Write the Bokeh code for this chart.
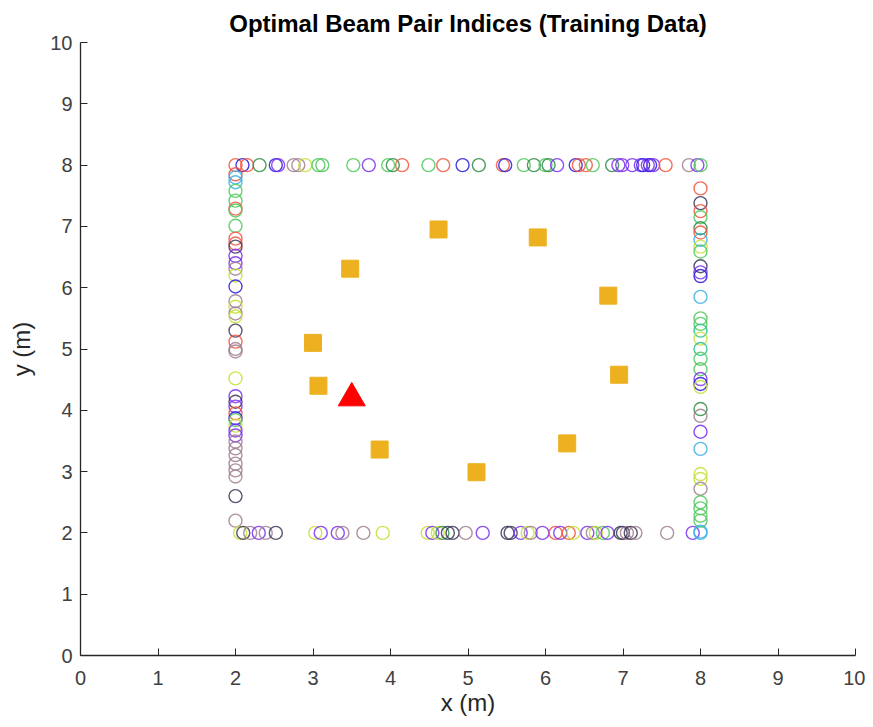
from bokeh.plotting import figure
from bokeh.embed import file_html
from bokeh.resources import INLINE
from bokeh.models import Range1d, FixedTicker, Title

# palette of beam-pair index colours
palette = ["#F2553D", "#4FC85C", "#2E8B48", "#2B1BD9", "#7B30F0",
           "#A08090", "#C4E034", "#3C3858", "#3CB0E8", "#22C48A"]

# top edge (y = 8)
top_x = [2.0, 2.09, 2.15, 2.31, 2.52, 2.55, 2.75, 2.81, 2.9, 3.07, 3.12, 3.52, 3.72,
         3.97, 4.03, 4.15, 4.49, 4.68, 4.93, 5.14, 5.45, 5.48, 5.72, 5.85, 6.0, 6.04,
         6.15, 6.39, 6.43, 6.52, 6.61, 6.86, 6.94, 6.99, 7.12, 7.23, 7.26, 7.32, 7.35,
         7.39, 7.55, 7.85, 7.96, 8.0]
top_c = [0, 3, 0, 2, 3, 4, 5, 5, 6, 1, 1, 1, 4,
         1, 2, 0, 1, 0, 3, 2, 0, 3, 1, 2, 1, 2,
         4, 3, 0, 0, 1, 2, 4, 4, 4, 4, 3, 4, 3,
         4, 0, 5, 4, 1]

# left edge (x = 2)
left_y = [7.85, 7.8, 7.72, 7.58, 7.42, 7.29, 7.26, 7.01, 6.8, 6.72, 6.67, 6.52, 6.4,
          6.31, 6.2, 6.02, 5.78, 5.69, 5.58, 5.53, 5.3, 5.12, 5.0, 4.96, 4.52, 4.23,
          4.14, 4.06, 3.95, 3.87, 3.84, 3.75, 3.67, 3.59, 3.49, 3.38, 3.27, 3.13, 3.02,
          2.92, 2.6, 2.2]
left_c = [0, 8, 8, 1, 1, 0, 1, 1, 0, 0, 7, 4, 4,
          5, 6, 3, 5, 6, 5, 6, 7, 0, 5, 5, 6, 4,
          7, 4, 0, 3, 1, 6, 4, 4, 5, 5, 5, 5, 5,
          5, 7, 5]

# bottom edge (y = 2)
bottom_x = [2.06, 2.1, 2.19, 2.3, 2.39, 2.52, 3.03, 3.1, 3.32, 3.38, 3.65, 3.9, 4.48,
            4.54, 4.61, 4.67, 4.74, 4.8, 4.97, 5.19, 5.51, 5.55, 5.68, 5.77, 5.81, 5.96,
            6.13, 6.19, 6.3, 6.36, 6.54, 6.61, 6.65, 6.74, 6.8, 6.97, 7.0, 7.05, 7.1,
            7.16, 7.57, 7.9, 8.0]
bottom_c = [6, 7, 5, 4, 5, 7, 6, 4, 4, 5, 5, 6, 6,
            4, 6, 2, 7, 7, 5, 4, 7, 7, 4, 6, 5, 4,
            0, 4, 0, 6, 4, 5, 6, 1, 4, 7, 7, 5, 7,
            5, 5, 4, 8]

# right edge (x = 8)
right_y = [7.62, 7.38, 7.25, 7.15, 6.97, 6.9, 6.78, 6.67, 6.59, 6.35, 6.25, 6.19, 5.85,
           5.5, 5.41, 5.3, 5.17, 5.0, 4.84, 4.67, 4.51, 4.43, 4.38, 4.02, 3.91, 3.65,
           3.37, 2.96, 2.88, 2.72, 2.5, 2.4, 2.28, 2.2, 2.02]
right_c = [0, 7, 0, 1, 2, 0, 8, 6, 1, 7, 4, 3, 8,
           1, 1, 9, 6, 9, 1, 1, 4, 3, 6, 2, 5, 4,
           8, 6, 6, 5, 1, 1, 1, 1, 8]

# access points (squares) and base station (triangle)
ap_x = [3.48, 4.62, 5.9, 6.81, 6.95, 6.28, 5.11, 3.86, 3.07, 3.0]
ap_y = [6.31, 6.95, 6.82, 5.87, 4.58, 3.46, 2.99, 3.36, 4.4, 5.1]
bs_x = [3.5]
bs_y = [4.2]

ticks = [0, 1, 2, 3, 4, 5, 6, 7, 8, 9, 10]

xs = top_x + [2.0] * len(left_y) + bottom_x + [8.0] * len(right_y)
ys = [8.0] * len(top_x) + left_y + [2.0] * len(bottom_x) + right_y
cs = [palette[i] for i in top_c + left_c + bottom_c + right_c]

p = figure(width=865, height=719, output_backend="svg", toolbar_location=None,
           x_range=Range1d(0, 10), y_range=Range1d(0, 10),
           min_border_left=80, min_border_right=10, min_border_top=42,
           min_border_bottom=64)
p.title = Title(text="Optimal Beam Pair Indices (Training Data)", align="center",
                text_font="Liberation Sans", text_font_size="24px",
                text_font_style="bold", text_color="#000000", standoff=12)
p.outline_line_color = None
p.xgrid.visible = False
p.ygrid.visible = False
p.background_fill_color = "white"
p.border_fill_color = "white"

for ax in (p.xaxis[0], p.yaxis[0]):
    ax.ticker = FixedTicker(ticks=ticks)
    ax.axis_line_color = "#262626"
    ax.axis_line_width = 1.3
    ax.major_tick_line_color = "#262626"
    ax.major_tick_in = 7
    ax.major_tick_out = 0
    ax.minor_tick_line_color = None
    ax.major_label_text_font = "Liberation Sans"
    ax.major_label_text_font_size = "20px"
    ax.major_label_text_color = "#404040"
    ax.axis_label_text_font = "Liberation Sans"
    ax.axis_label_text_font_size = "24px"
    ax.axis_label_text_font_style = "normal"
    ax.axis_label_text_color = "#262626"

p.xaxis.axis_label = "x (m)"
p.yaxis.axis_label = "y (m)"
p.xaxis.major_label_standoff = 15
p.yaxis.major_label_standoff = 8
p.xaxis.axis_label_standoff = 1
p.yaxis.axis_label_standoff = 12

p.scatter(xs, ys, marker="circle", size=13, fill_color=None, line_color=cs,
          line_width=1.4, line_alpha=0.85)
p.scatter(ap_x, ap_y, marker="square", size=17, fill_color="#EDB120",
          line_color="#EDB120")
p.scatter(bs_x, bs_y, marker="triangle", size=27, fill_color="#FF0000",
          line_color="#FF0000")

open("out.html", "w").write(file_html(p, INLINE))
